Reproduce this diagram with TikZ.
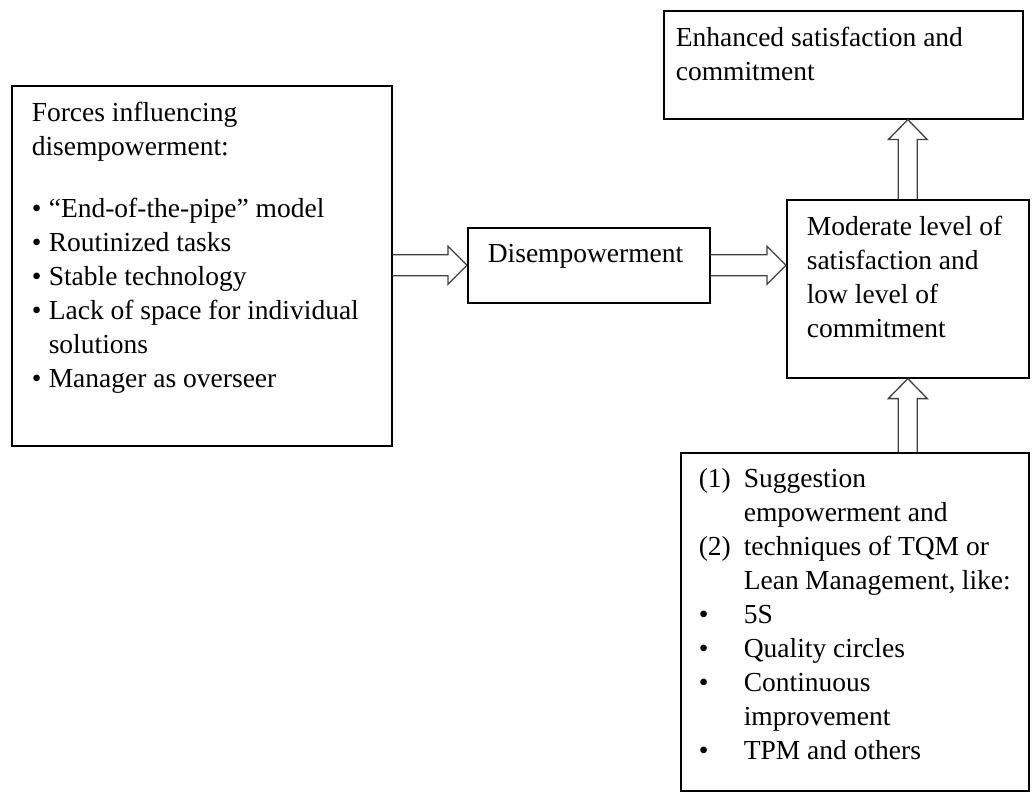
\documentclass[tikz,border=0pt]{standalone}
\usepackage{fontspec}
\setmainfont{Liberation Serif}
\usetikzlibrary{calc,positioning}

% text block of a box: width, height, contents
\newcommand{\boxtext}[3]{\begin{minipage}[t][#2][t]{#1}\raggedright #3\end{minipage}}
% list lines with a hanging label
\newcommand{\bitem}[1]{\par\hangindent=17pt\hangafter=1\relax\makebox[17pt][l]{\textbullet}#1}
\newcommand{\nitem}[2]{\par\hangindent=45pt\hangafter=1\relax\makebox[45pt][l]{#1}#2}
% hollow block arrows, from #1 to #2
\newcommand{\hollowright}[2]{%
  \draw[blockarrow] let \p1=(#1), \p2=(#2) in
    (\x1,\y2+10.5pt) -- (\x2-19pt,\y2+10.5pt) -- (\x2-19pt,\y2+19pt)
    -- (\x2,\y2) -- (\x2-19pt,\y2-19pt) -- (\x2-19pt,\y2-10.5pt)
    -- (\x1,\y2-10.5pt);}
\newcommand{\hollowup}[2]{%
  \draw[blockarrow] let \p1=(#1), \p2=(#2) in
    (\x2-9.5pt,\y1) -- (\x2-9.5pt,\y2-20pt) -- (\x2-19.5pt,\y2-20pt)
    -- (\x2,\y2) -- (\x2+19.5pt,\y2-20pt) -- (\x2+9.5pt,\y2-20pt)
    -- (\x2+9.5pt,\y1);}

\begin{document}
\begin{tikzpicture}[x=1pt, y=-1pt,
    box/.style={draw, line width=1.6pt, anchor=north west, inner xsep=20pt, inner ysep=16pt,
                font=\fontsize{27.5}{34}\selectfont},
    blockarrow/.style={draw=black!75, line width=1.3pt, line join=miter}]
        \useasboundingbox (0,0) rectangle (1032,794);

        % Forces box
        \node[box] (forces) at (11,85) {\boxtext{340pt}{328pt}{%
            Forces influencing\newline disempowerment:\par\vspace{28pt}
            \bitem{``End-of-the-pipe'' model}
            \bitem{Routinized tasks}
            \bitem{Stable technology}
            \bitem{Lack of space for individual\newline solutions}
            \bitem{Manager as overseer}}};

        % Disempowerment
        \node[box] (dis) at (467,227) {\boxtext{202pt}{43pt}{Disempowerment}};

        % Moderate level
        \node[box] (mod) at (786,199) {\boxtext{202pt}{146pt}{%
            Moderate level of\newline satisfaction and\newline low level of\newline commitment}};

        % Enhanced
        \node[box, inner xsep=12pt] (enh) at (663,10) {\boxtext{335pt}{76pt}{%
            Enhanced satisfaction and\newline commitment}};

        % Suggestions and techniques
        \node[box, inner xsep=18pt] (sugg) at (680,452) {\boxtext{312pt}{306pt}{%
            \nitem{(1)}{Suggestion\newline empowerment and}
            \nitem{(2)}{techniques of TQM or\newline Lean Management, like:}
            \nitem{\textbullet}{5S}
            \nitem{\textbullet}{Quality circles}
            \nitem{\textbullet}{Continuous\newline improvement}
            \nitem{\textbullet}{TPM and others}}};

        % Arrows
        \hollowright{forces.east}{dis.west}
        \hollowright{dis.east}{mod.west |- dis.east}
        \hollowup{mod.north}{enh.south -| mod.north}
        \hollowup{sugg.north -| mod.south}{mod.south}
    \end{tikzpicture}
\end{document}
